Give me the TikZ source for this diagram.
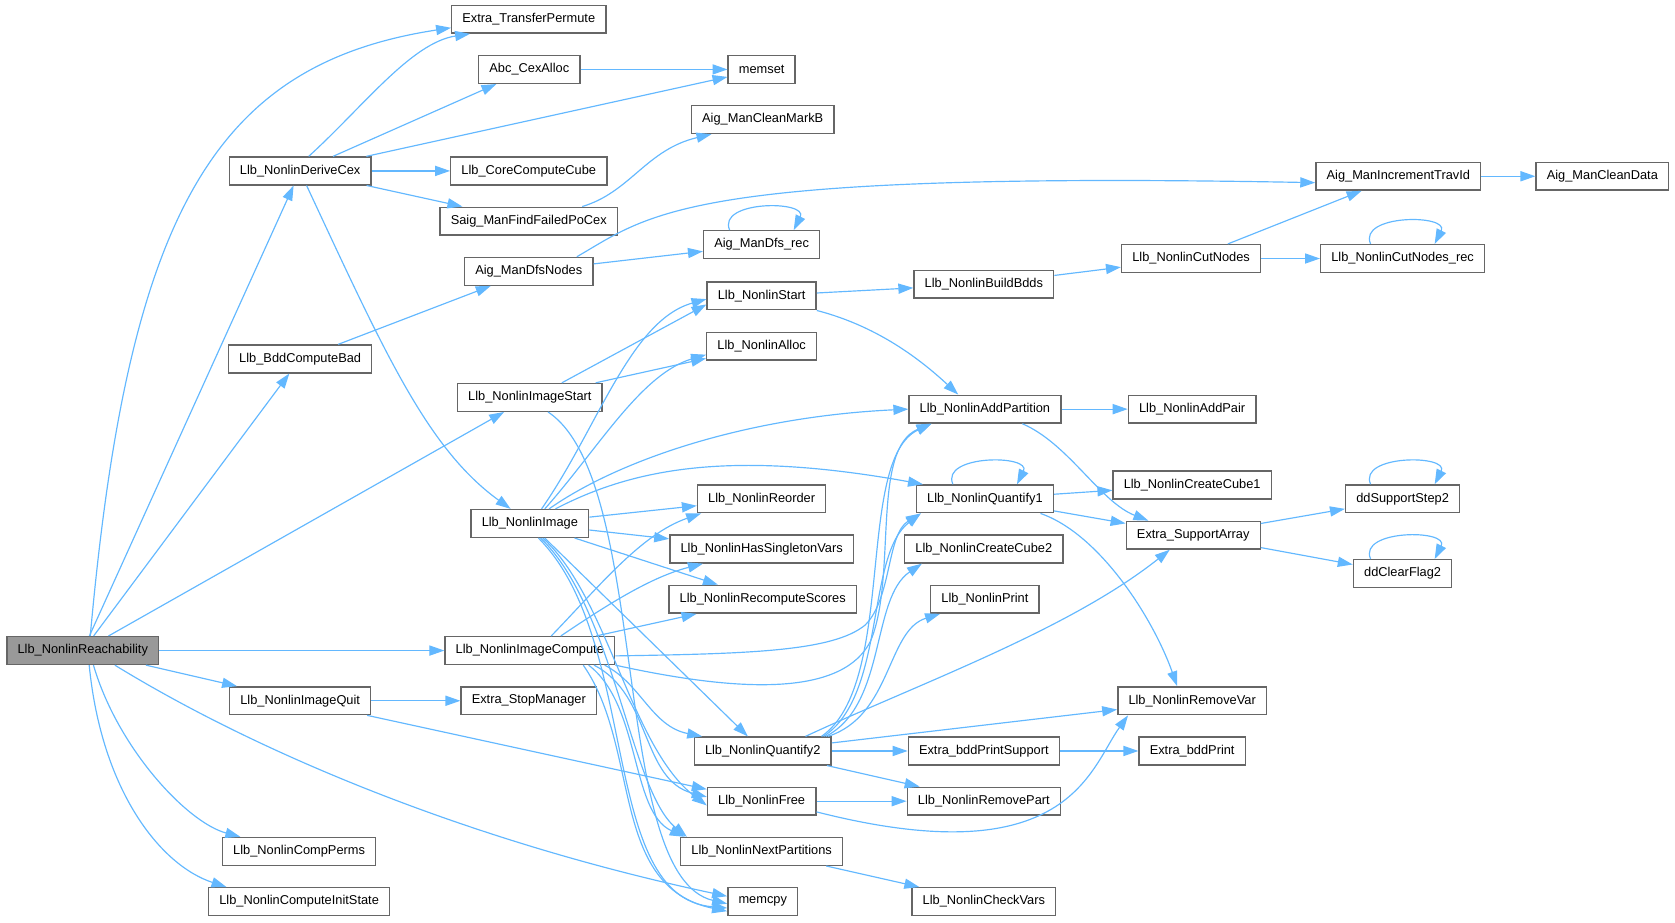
\documentclass[tikz,border=0pt]{standalone}
\usepackage{fontspec}
\setmainfont{Liberation Sans}
\usetikzlibrary{arrows.meta}
\definecolor{cEdge}{HTML}{63B8FF}
\definecolor{cBorder}{HTML}{666666}
\definecolor{cRoot}{HTML}{999999}

\begin{document}
\begin{tikzpicture}[
    x=1pt, y=-1pt,
    fn/.style={rectangle, draw=cBorder, line width=1.3pt, fill=white, minimum height=26pt, inner xsep=10pt, inner ysep=0pt, font=\fontsize{12}{14}\selectfont, text=black},
    root/.style={fn, fill=cRoot},
    arr/.style={-{Triangle[length=14pt,width=9.5pt]}, line width=1.1pt, cEdge}
]
\useasboundingbox (0,0) rectangle (1568,864);

% column 0
\node[root] (reach) at (77.5,609) {Llb\_NonlinReachability};
% column 1
\node[fn] (derive) at (281,160) {Llb\_NonlinDeriveCex};
\node[fn] (bddbad) at (281,336) {Llb\_BddComputeBad};
\node[fn] (iquit)  at (281,656) {Llb\_NonlinImageQuit};
\node[fn] (perms)  at (280,797) {Llb\_NonlinCompPerms};
\node[fn] (initst) at (280,844) {Llb\_NonlinComputeInitState};
% column 2
\node[fn] (xfer)     at (495,18)  {Extra\_TransferPermute};
\node[fn] (cexalloc) at (495.5,65) {Abc\_CexAlloc};
\node[fn] (corecube) at (495,160) {Llb\_CoreComputeCube};
\node[fn] (saig)     at (495,207) {Saig\_ManFindFailedPoCex};
\node[fn] (dfsnodes) at (495,254) {Aig\_ManDfsNodes};
\node[fn] (istart)   at (496,372) {Llb\_NonlinImageStart};
\node[fn] (img)      at (496,490) {Llb\_NonlinImage};
\node[fn] (icomp)    at (496,609) {Llb\_NonlinImageCompute};
\node[fn] (stopm)    at (495,656) {Extra\_StopManager};
% column 3
\node[fn] (memset)  at (713,65)  {memset};
\node[fn] (markb)   at (714,112) {Aig\_ManCleanMarkB};
\node[fn] (dfsrec)  at (713,229) {Aig\_ManDfs\_rec};
\node[fn] (nstart)  at (713,277) {Llb\_NonlinStart};
\node[fn] (nalloc)  at (713,324) {Llb\_NonlinAlloc};
\node[fn] (reorder) at (713,467) {Llb\_NonlinReorder};
\node[fn] (single)  at (713,514) {Llb\_NonlinHasSingletonVars};
\node[fn] (rescore) at (714,561) {Llb\_NonlinRecomputeScores};
\node[fn] (q2)      at (714,703) {Llb\_NonlinQuantify2};
\node[fn] (nfree)   at (713,750) {Llb\_NonlinFree};
\node[fn] (nextp)   at (713,797) {Llb\_NonlinNextPartitions};
\node[fn] (memcpy)  at (714,844) {memcpy};
% column 4
\node[fn] (buildbdds) at (921,266) {Llb\_NonlinBuildBdds};
\node[fn] (addpart)   at (922,383) {Llb\_NonlinAddPartition};
\node[fn] (q1)        at (922,467) {Llb\_NonlinQuantify1};
\node[fn] (cube2)     at (921,514) {Llb\_NonlinCreateCube2};
\node[fn] (nprint)    at (922,561) {Llb\_NonlinPrint};
\node[fn] (bddps)     at (921,703) {Extra\_bddPrintSupport};
\node[fn] (rempart)   at (921,750) {Llb\_NonlinRemovePart};
\node[fn] (checkv)    at (921,844) {Llb\_NonlinCheckVars};
% column 5
\node[fn] (cutnodes) at (1115,242) {Llb\_NonlinCutNodes};
\node[fn] (addpair)  at (1116,383) {Llb\_NonlinAddPair};
\node[fn] (cube1)    at (1116,454) {Llb\_NonlinCreateCube1};
\node[fn] (supp)     at (1117,501) {Extra\_SupportArray};
\node[fn] (remvar)   at (1116,656) {Llb\_NonlinRemoveVar};
\node[fn] (bddprint) at (1116,703) {Extra\_bddPrint};
% column 6
\node[fn] (inctrav) at (1309,165) {Aig\_ManIncrementTravId};
\node[fn] (cutrec)  at (1313,242) {Llb\_NonlinCutNodes\_rec};
\node[fn] (ddstep)  at (1313,467) {ddSupportStep2};
\node[fn] (ddclear) at (1313,537) {ddClearFlag2};
% column 7
\node[fn] (cleandata) at (1500,165) {Aig\_ManCleanData};

% straight calls
\foreach \a/\b in {reach/derive, reach/bddbad, reach/istart, reach/icomp, reach/iquit,
    derive/cexalloc, derive/memset, derive/corecube, derive/saig, cexalloc/memset,
    dfsnodes/dfsrec, bddbad/dfsnodes, inctrav/cleandata, cutnodes/inctrav, cutnodes/cutrec,
    buildbdds/cutnodes, nstart/buildbdds, istart/nalloc, img/reorder, img/single,
    img/rescore, img/q2, icomp/rescore, iquit/stopm, iquit/nfree, q2/remvar, q2/bddps,
    q2/rempart, nfree/rempart, q1/cube1, q1/supp, addpart/addpair, supp/ddstep,
    supp/ddclear, nextp/checkv, bddps/bddprint} {
  \draw[arr] (\a) -- (\b);
}
\draw[arr] ([xshift=30pt]istart.north) -- ([yshift=-8pt]nstart.west);

% recursive calls
\foreach \n in {dfsrec, cutrec, q1, ddstep, ddclear} {
  \draw[arr] ([xshift=-30pt]\n.north) .. controls +(-12,-28) and +(14,-28) .. ([xshift=30pt]\n.north);
}

% curved calls
\draw[arr] ([xshift=7pt]reach.north) .. controls (120,200) and (200,60) .. ([yshift=-8pt]xfer.west);
\draw[arr] ([xshift=10pt]reach.south) .. controls (110,700) and (175,770) .. ([xshift=-55pt]perms.north);
\draw[arr] ([xshift=6pt]reach.south) .. controls (95,740) and (150,810) .. ([xshift=-68pt]initst.north);
\draw[arr] ([xshift=30pt]reach.south) .. controls (250,710) and (450,790) .. ([yshift=5pt]memcpy.west);
\draw[arr] ([xshift=8pt]derive.north) .. controls (340,100) and (385,40) .. ([xshift=-55pt]xfer.south);
\draw[arr] ([xshift=6pt]derive.south) .. controls (360,330) and (400,420) .. ([xshift=-18pt]img.north);
\draw[arr] ([xshift=50pt]saig.north) .. controls (590,180) and (605,140) .. ([xshift=-48pt]markb.south);
\draw[arr] ([xshift=45pt]dfsnodes.north) .. controls (610,200) and (640,160) .. ([yshift=-6pt]inctrav.west);
\draw[arr] (nstart.south east) .. controls (820,305) and (860,335) .. ([xshift=-25pt]addpart.north);
\draw[arr] ([xshift=17pt]istart.south) .. controls (610,450) and (570,820) .. ([yshift=-2pt]memcpy.west);
\draw[arr] ([xshift=11pt]img.north) .. controls (560,400) and (590,300) .. ([yshift=-3pt]nstart.west);
\draw[arr] ([xshift=14pt]img.north) .. controls (560,420) and (600,350) .. ([yshift=-8pt]nalloc.west);
\draw[arr] ([xshift=18pt]img.north) .. controls (580,430) and (700,390) .. (addpart.west);
\draw[arr] ([xshift=24pt]img.north) .. controls (590,440) and (680,420) .. ([xshift=-58pt]q1.north);
\draw[arr] ([xshift=12pt]img.south) .. controls (570,560) and (590,700) .. ([yshift=-4pt]nfree.west);
\draw[arr] ([xshift=10pt]img.south) .. controls (575,570) and (590,740) .. ([xshift=-70pt]nextp.north);
\draw[arr] ([xshift=8pt]img.south) .. controls (600,600) and (560,840) .. ([yshift=-6pt]memcpy.west);
\draw[arr] ([xshift=20pt]icomp.north) .. controls (560,550) and (600,500) .. ([xshift=4pt]reorder.south west);
\draw[arr] ([xshift=29pt]icomp.north) .. controls (570,565) and (610,540) .. ([xshift=-55pt]single.south);
\draw[arr] ([yshift=-5pt]icomp.east) .. controls (700,612) and (780,610) .. (810,585)
    .. controls (835,560) and (830,500) .. ([xshift=-60pt]q1.south);
\draw[arr] (icomp.south east) .. controls (700,650) and (790,650) .. (815,600)
    .. controls (840,540) and (815,420) .. ([xshift=-50pt]addpart.south);
\draw[arr] ([xshift=70pt]icomp.south) .. controls (600,640) and (610,680) .. ([xshift=8pt]q2.north west);
\draw[arr] ([xshift=60pt]icomp.south) .. controls (610,650) and (600,730) .. ([yshift=4pt]nfree.west);
\draw[arr] ([xshift=55pt]icomp.south) .. controls (600,660) and (590,760) .. ([xshift=-72pt]nextp.north);
\draw[arr] ([xshift=50pt]icomp.south) .. controls (600,700) and (570,830) .. ([yshift=-9pt]memcpy.west);
\draw[arr] ([xshift=55pt]q2.north) .. controls (840,640) and (800,430) .. ([xshift=-50pt]addpart.south);
\draw[arr] ([xshift=57pt]q2.north) .. controls (830,650) and (810,520) .. ([xshift=-60pt]q1.south);
\draw[arr] ([xshift=59pt]q2.north) .. controls (830,660) and (815,560) .. ([xshift=-58pt]cube2.south);
\draw[arr] ([xshift=61pt]q2.north) .. controls (835,670) and (830,590) .. ([xshift=-42pt]nprint.south);
\draw[arr] ([xshift=40pt]q2.north) .. controls (860,640) and (1000,590) .. ([xshift=-22pt]supp.south);
\draw[arr] ([yshift=-10pt]nfree.east) .. controls (1000,820) and (1020,720) .. ([xshift=-60pt]remvar.south);
\draw[arr] ([xshift=52pt]q1.south) .. controls (1030,500) and (1080,580) .. ([xshift=-14pt]remvar.north);
\draw[arr] ([xshift=35pt]addpart.south) .. controls (1000,415) and (1030,470) .. ([xshift=-42pt]supp.north);
\end{tikzpicture}
\end{document}
